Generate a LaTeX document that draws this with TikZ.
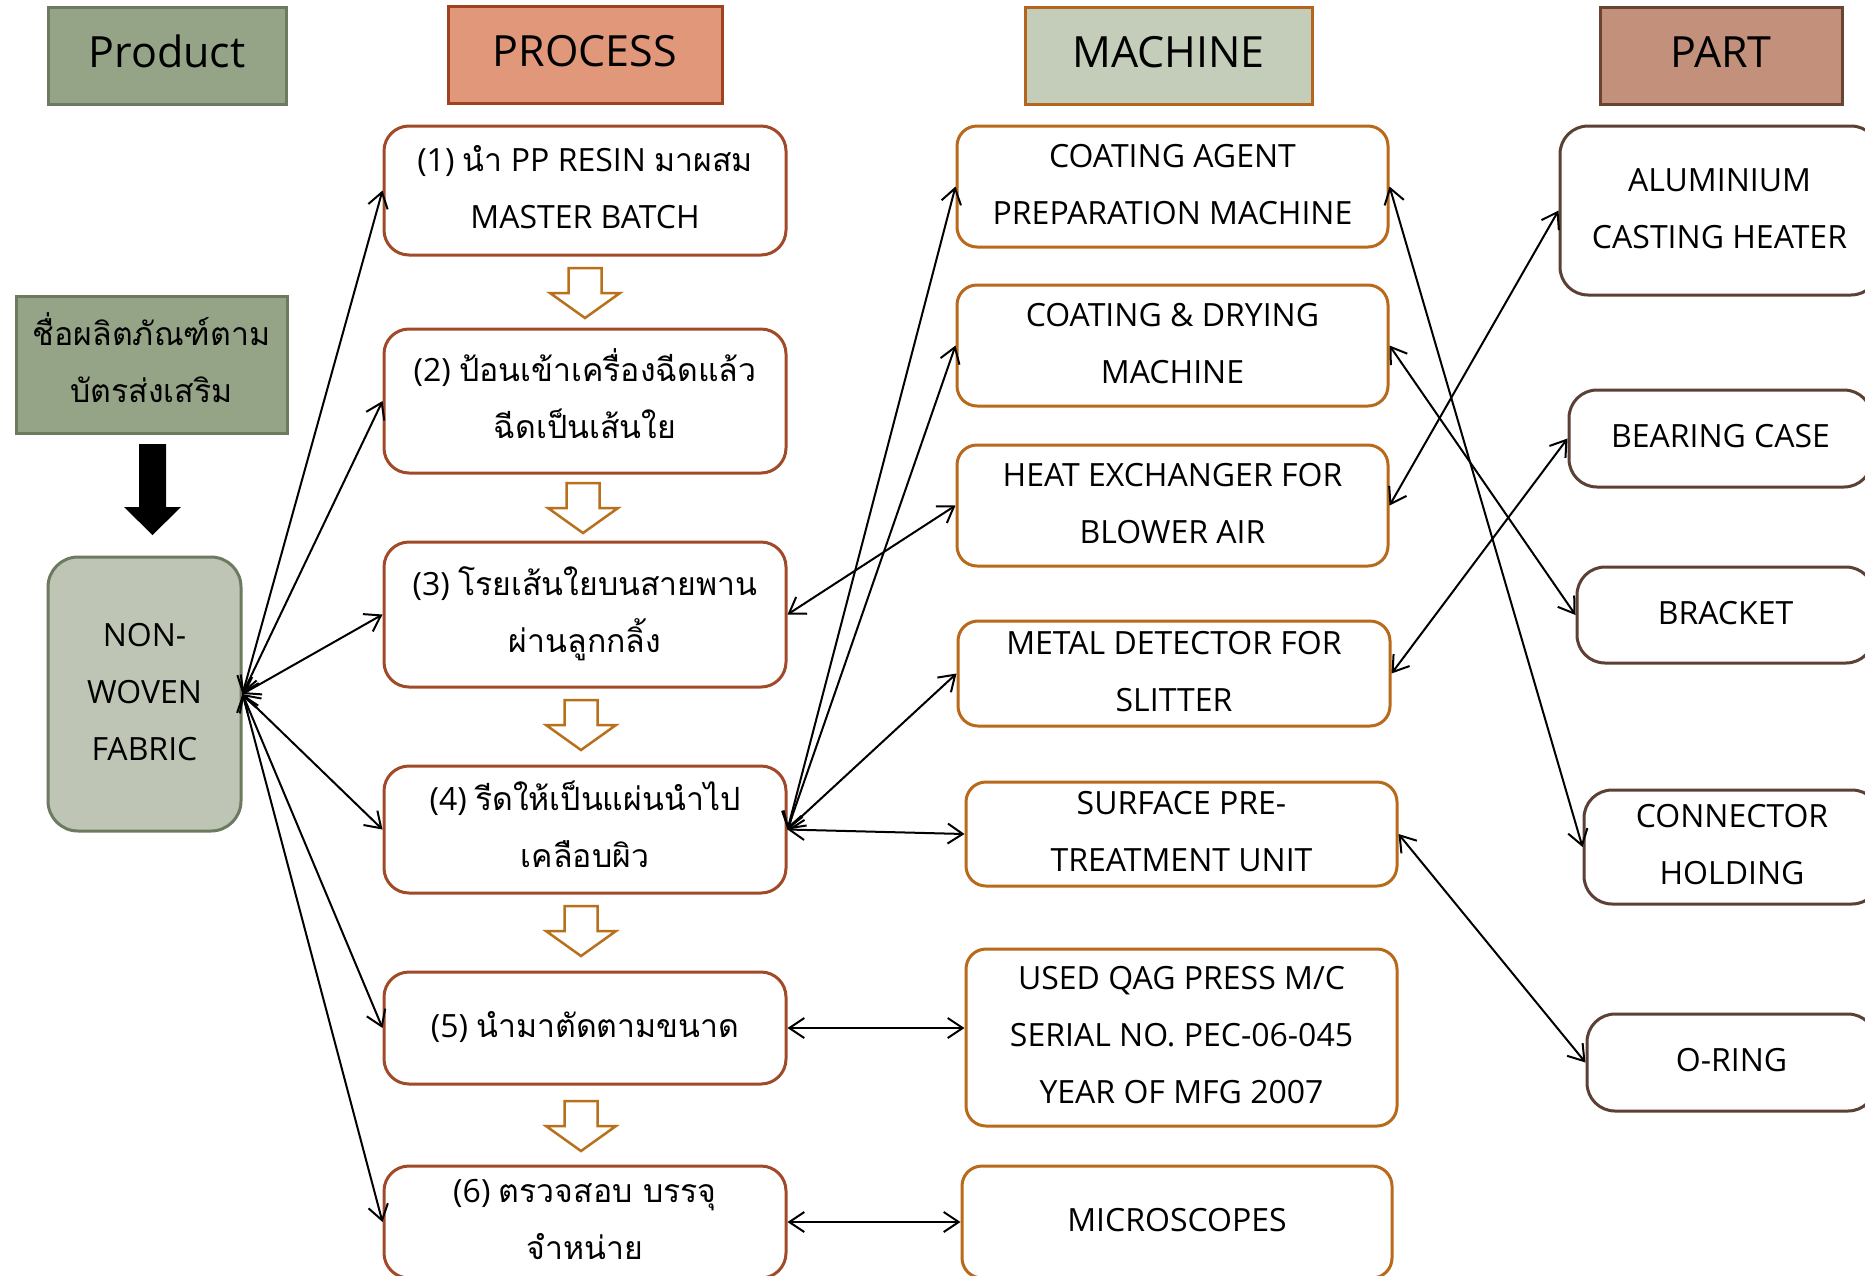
\documentclass[tikz,border=0pt]{standalone}
\usepackage{fontspec}
\setmainfont{Open Sans}
\newfontfamily\thaifont[Script=Thai]{Loma}
\newcommand\thaitxt[1]{{\thaifont #1}}
\usetikzlibrary{arrows.meta,fit}
\definecolor{prodfill}{HTML}{95A386}
\definecolor{prodedge}{HTML}{6C7B5F}
\definecolor{procfill}{HTML}{E1987A}
\definecolor{procedge}{HTML}{A0421F}
\definecolor{machfill}{HTML}{C4CDBA}
\definecolor{machedge}{HTML}{B5651D}
\definecolor{partfill}{HTML}{C3917B}
\definecolor{partedge}{HTML}{6B4333}
\definecolor{fabfill}{HTML}{BFC5B5}
\definecolor{pboxedge}{HTML}{A04A28}
\definecolor{mboxedge}{HTML}{B8691A}
\definecolor{qboxedge}{HTML}{5C4033}
\definecolor{harrowcol}{HTML}{B8701A}
\begin{document}
\begin{tikzpicture}[x=1pt,y=-1pt,
  hdr/.style={draw, line width=3pt, inner sep=0pt},
  hdrtxt/.style={inner sep=0pt, font=\fontsize{43}{50}\selectfont, text height=30pt, text depth=6pt},
  txt/.style={inner sep=0pt, align=center, font=\fontsize{32}{57}\selectfont, text height=24pt, text depth=6pt},
  txttwo/.style={txt, text height=81pt},
  txtthree/.style={txt, text height=138pt},
  pbox/.style={draw=pboxedge, line width=3pt, rounded corners=25pt, fill=white, inner sep=0pt},
  mbox/.style={draw=mboxedge, line width=3pt, rounded corners=20pt, fill=white, inner sep=0pt},
  qbox/.style={draw=qboxedge, line width=3pt, rounded corners=28pt, fill=white, inner sep=0pt},
  conn/.style={line width=2pt, {Straight Barb[length=15pt,width=20pt]}-{Straight Barb[length=15pt,width=20pt]}},
  harrow/.style={draw=harrowcol, line width=2.5pt, fill=white, line join=miter},
  hollowdown/.pic={\path[harrow] (-16.5,-25) -- (16.5,-25) -- (16.5,0) -- (35,0) -- (0,25) -- (-35,0) -- (-16.5,0) -- cycle;}
]
\useasboundingbox (0,0) rectangle (1865,1275);
\fill[white] (0,0) rectangle (1865,1275);

% headers
\node[hdr, draw=prodedge, fill=prodfill, fit={(48,7) (286,104)}] (hprod) {};
\node[hdrtxt] (hprodt) at (hprod.center) {Product};
\node[hdr, draw=procedge, fill=procfill, fit={(448,6) (722,103)}] (hproc) {};
\node[hdrtxt] (hproct) at (hproc.center) {PROCESS};
\node[hdr, draw=machedge, fill=machfill, fit={(1025,7) (1312,104)}] (hmach) {};
\node[hdrtxt] (hmacht) at (hmach.center) {MACHINE};
\node[hdr, draw=partedge, fill=partfill, fit={(1600,7) (1842,104)}] (hpart) {};
\node[hdrtxt] (hpartt) at (hpart.center) {PART};

% product column
\node[draw=prodedge, line width=3pt, fill=prodfill, inner sep=0pt, fit={(16,296) (287,433)}] (thai) {};
\node[txttwo] (thait) at (thai.center) {\thaitxt{ชื่อผลิตภัณฑ์ตาม}\\\thaitxt{บัตรส่งเสริม}};
\fill (139,444) -- (166,444) -- (166,507) -- (181,507) -- (152.5,535) -- (124,507) -- (139,507) -- cycle;
\node[draw=prodedge, line width=3pt, fill=fabfill, rounded corners=30pt, inner sep=0pt, fit={(48,557) (241,831)}] (fab) {};
\node[txtthree] (fabt) at (fab.center) {NON-\\WOVEN\\FABRIC};

% process column
\node[pbox, fit={(384,126) (786,255)}] (p1) {};
\node[txttwo] (p1t) at (p1.center) {(1) \thaitxt{นำ} PP RESIN \thaitxt{มาผสม}\\MASTER BATCH};
\node[pbox, fit={(384,329) (786,473)}] (p2) {};
\node[txttwo] (p2t) at (p2.center) {(2) \thaitxt{ป้อนเข้าเครื่องฉีดแล้ว}\\\thaitxt{ฉีดเป็นเส้นใย}};
\node[pbox, fit={(384,542) (786,687)}] (p3) {};
\node[txttwo] (p3t) at (p3.center) {(3) \thaitxt{โรยเส้นใยบนสายพาน}\\\thaitxt{ผ่านลูกกลิ้ง}};
\node[pbox, fit={(384,766) (786,893)}] (p4) {};
\node[txttwo] (p4t) at (p4.center) {(4) \thaitxt{รีดให้เป็นแผ่นนำไป}\\\thaitxt{เคลือบผิว}};
\node[pbox, fit={(384,972) (786,1084)}] (p5) {};
\node[txt] (p5t) at (p5.center) {(5) \thaitxt{นำมาตัดตามขนาด}};
\node[pbox, fit={(384,1166) (786,1278)}] (p6) {};
\node[txttwo] (p6t) at (p6.center) {(6) \thaitxt{ตรวจสอบ บรรจุ}\\\thaitxt{จำหน่าย}};

\pic at (585,293) {hollowdown};
\pic at (583,508) {hollowdown};
\pic at (581,725) {hollowdown};
\pic at (581,931) {hollowdown};
\pic at (581,1126) {hollowdown};

% machine column
\node[mbox, fit={(957,126) (1388,247)}] (m1) {};
\node[txttwo] (m1t) at (m1.center) {COATING AGENT\\PREPARATION MACHINE};
\node[mbox, fit={(957,285) (1388,406)}] (m2) {};
\node[txttwo] (m2t) at (m2.center) {COATING \& DRYING\\MACHINE};
\node[mbox, fit={(957,445) (1388,566)}] (m3) {};
\node[txttwo] (m3t) at (m3.center) {HEAT EXCHANGER FOR\\BLOWER AIR};
\node[mbox, fit={(958,621) (1390,726)}] (m4) {};
\node[txttwo] (m4t) at (m4.center) {METAL DETECTOR FOR\\SLITTER};
\node[mbox, fit={(966,782) (1397,886)}] (m5) {};
\node[txttwo] (m5t) at (m5.center) {SURFACE PRE-\\TREATMENT UNIT};
\node[mbox, fit={(966,949) (1397,1126)}] (m6) {};
\node[txtthree] (m6t) at (m6.center) {USED QAG PRESS M/C\\SERIAL NO. PEC-06-045\\YEAR OF MFG 2007};
\node[mbox, fit={(962,1166) (1392,1278)}] (m7) {};
\node[txt] (m7t) at (m7.center) {MICROSCOPES};

% part column
\node[qbox, fit={(1560,126) (1879,295)}] (q1) {};
\node[txttwo] (q1t) at (q1.center) {ALUMINIUM\\CASTING HEATER};
\node[qbox, fit={(1569,390) (1872,487)}] (q2) {};
\node[txt] (q2t) at (q2.center) {BEARING CASE};
\node[qbox, fit={(1577,567) (1874,663)}] (q3) {};
\node[txt] (q3t) at (q3.center) {BRACKET};
\node[qbox, fit={(1584,790) (1880,904)}] (q4) {};
\node[txttwo] (q4t) at (q4.center) {CONNECTOR\\HOLDING};
\node[qbox, fit={(1587,1014) (1876,1111)}] (q5) {};
\node[txt] (q5t) at (q5.center) {O-RING};

% connectors
\foreach \p in {p1,p2,p3,p4,p5,p6} \draw[conn] (fab.east) -- (\p.west);
\foreach \m in {m1,m2,m4,m5} \draw[conn] (p4.east) -- (\m.west);
\draw[conn] (p3.east) -- (m3.west);
\draw[conn] (p5.east) -- (p5.east -| m6.west);
\draw[conn] (p6.east) -- (m7.west);
\draw[conn] (m1.east) -- (q4.west);
\draw[conn] (m2.east) -- (q3.west);
\draw[conn] (m3.east) -- (q1.west);
\draw[conn] (m4.east) -- (q2.west);
\draw[conn] (m5.east) -- (q5.west);
\end{tikzpicture}
\end{document}
